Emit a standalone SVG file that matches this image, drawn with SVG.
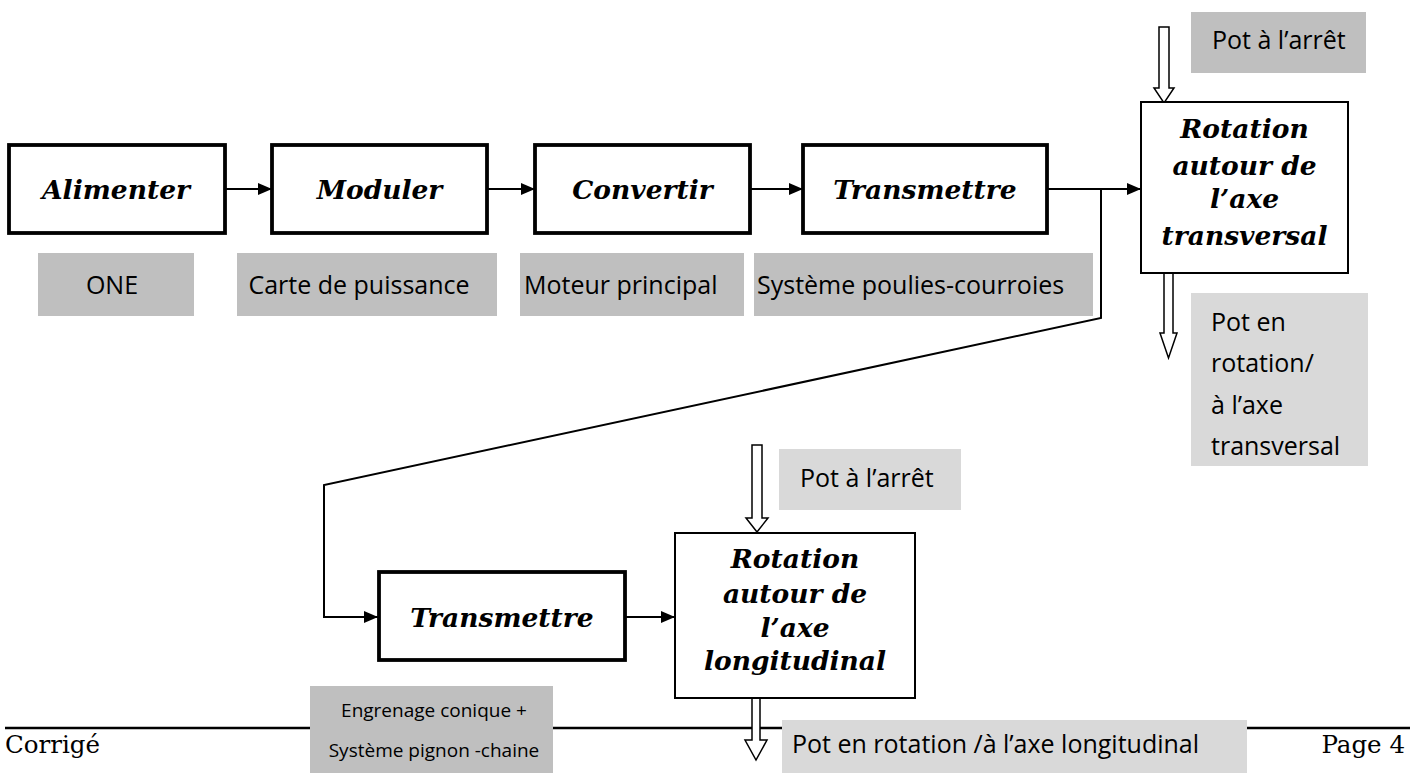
<svg xmlns="http://www.w3.org/2000/svg" width="1415" height="773" viewBox="0 0 1415 773">
<defs>
<marker id="ah" markerWidth="14" markerHeight="12" refX="14" refY="6" orient="auto" markerUnits="userSpaceOnUse">
<path d="M0,0 L14,6 L0,12 Z" fill="#000"/>
</marker>
<style>
.fb{fill:#fff;stroke:#000;stroke-width:3.8}
.rb{fill:#fff;stroke:#000;stroke-width:2}
.fn{font-family:"DejaVu Serif","Liberation Serif",serif;font-weight:bold;font-style:italic;font-size:26.5px;fill:#000;text-anchor:middle}
.lab{font-family:"Open Sans","Noto Sans",sans-serif;font-size:25px;fill:#000}
.sm{font-size:19px}
.g1{fill:#bfbfbf}
.g2{fill:#d9d9d9}
.con{fill:none;stroke:#000;stroke-width:2}
.hol{fill:#fff;stroke:#000;stroke-width:1.5}
.ft{font-family:"DejaVu Serif","Liberation Serif",serif;font-size:24.5px;fill:#000}
</style>
</defs>
<rect width="1415" height="773" fill="#fff"/>
<line x1="5" y1="728" x2="1410" y2="728" stroke="#000" stroke-width="2.5"/>
<g id="connectors">
<path class="con" d="M225,189 H272" marker-end="url(#ah)"/>
<path class="con" d="M487,189 H535" marker-end="url(#ah)"/>
<path class="con" d="M750,189 H803" marker-end="url(#ah)"/>
<path class="con" d="M1047,189 H1141" marker-end="url(#ah)"/>
<path class="con" d="M1101,189 V318 L324,485 V617 H378" marker-end="url(#ah)"/>
<path class="con" d="M625,617 H675" marker-end="url(#ah)"/>
<path class="hol" d="M1159,27 V88 H1154 L1164,103 L1174,88 H1169 V27 Z"/>
<path class="hol" d="M1164,273 V333 H1160 L1168.5,358 L1177,333 H1173 V273 Z"/>
<path class="hol" d="M752,445 V518 H746 L757,532 L768,518 H762 V445 Z"/>
<path class="hol" d="M752,698 V740 H745 L756,760 L767,740 H760 V698 Z"/>
</g>
<g id="alimenter"><rect class="fb" x="9" y="145" width="216" height="88"/><text class="fn" x="116" y="199">Alimenter</text></g>
<g id="moduler"><rect class="fb" x="272" y="145" width="215" height="88"/><text class="fn" x="379.5" y="199">Moduler</text></g>
<g id="convertir"><rect class="fb" x="535" y="145" width="215" height="88"/><text class="fn" x="642.5" y="199">Convertir</text></g>
<g id="transmettre1"><rect class="fb" x="803" y="145" width="244" height="88"/><text class="fn" x="925" y="199">Transmettre</text></g>
<g id="rotation-transversal"><rect class="rb" x="1141" y="102" width="207" height="171"/>
<text class="fn" x="1244.5" y="138">Rotation</text>
<text class="fn" x="1244.5" y="175">autour de</text>
<text class="fn" x="1244.5" y="208">l’axe</text>
<text class="fn" x="1244.5" y="245">transversal</text></g>
<g id="transmettre2"><rect class="fb" x="379" y="572" width="246" height="88"/><text class="fn" x="502" y="627">Transmettre</text></g>
<g id="rotation-longitudinal"><rect class="rb" x="675" y="533" width="240" height="165"/>
<text class="fn" x="795" y="568">Rotation</text>
<text class="fn" x="795" y="603">autour de</text>
<text class="fn" x="795" y="637">l’axe</text>
<text class="fn" x="795" y="670">longitudinal</text></g>
<g id="lbl-one"><rect class="g1" x="38" y="253" width="156" height="63"/><text class="lab" x="112" y="294" text-anchor="middle">ONE</text></g>
<g id="lbl-carte"><rect class="g1" x="237" y="253" width="260" height="63"/><text class="lab" x="359" y="294" text-anchor="middle">Carte de puissance</text></g>
<g id="lbl-moteur"><rect class="g1" x="520" y="253" width="224" height="63"/><text class="lab" x="524" y="294">Moteur principal</text></g>
<g id="lbl-systeme"><rect class="g1" x="754" y="253" width="339" height="63"/><text class="lab" x="757" y="294">Système poulies-courroies</text></g>
<g id="lbl-pot-arret-1"><rect class="g1" x="1191" y="12" width="175" height="61"/><text class="lab" x="1212" y="49">Pot à l’arrêt</text></g>
<g id="lbl-pot-rot-1"><rect class="g2" x="1191" y="293" width="177" height="173"/>
<text class="lab" x="1211" y="331">Pot en</text>
<text class="lab" x="1211" y="372">rotation/</text>
<text class="lab" x="1211" y="414">à l’axe</text>
<text class="lab" x="1211" y="455">transversal</text></g>
<g id="lbl-pot-arret-2"><rect class="g2" x="779" y="449" width="182" height="61"/><text class="lab" x="800" y="487">Pot à l’arrêt</text></g>
<g id="lbl-engrenage"><rect class="g1" x="310" y="686" width="243" height="87"/>
<text class="lab sm" x="434" y="717" text-anchor="middle">Engrenage conique +</text>
<text class="lab sm" x="434" y="757" text-anchor="middle">Système pignon -chaine</text></g>
<g id="lbl-pot-rot-2"><rect class="g2" x="782" y="720" width="465" height="53"/><text class="lab" x="792" y="753">Pot en rotation /à l’axe longitudinal</text></g>
<text class="ft" x="5" y="753">Corrigé</text>
<text class="ft" x="1405" y="753" text-anchor="end">Page 4</text>
</svg>
